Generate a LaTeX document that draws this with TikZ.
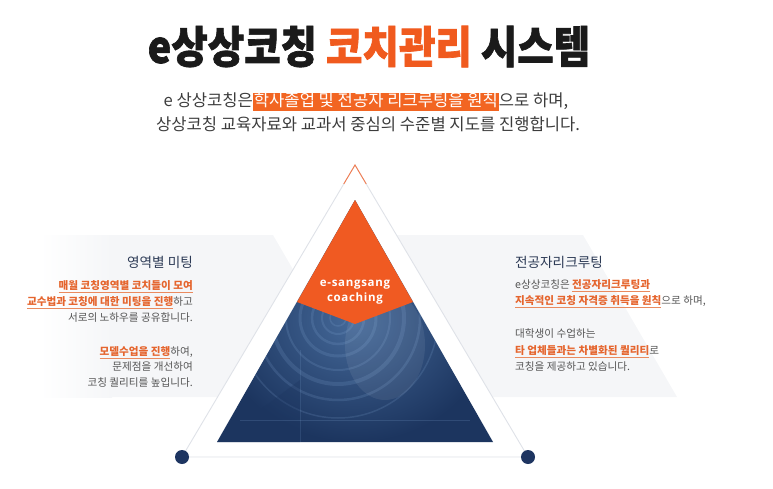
\documentclass[tikz,border=0pt]{standalone}
\usepackage{fontspec}
\setmainfont{Noto Sans CJK KR}
\newfontfamily\titlefont{Noto Sans CJK KR}[BoldFeatures={FakeBold=1.6}]
\newfontfamily\ctrfont{Open Sans}[LetterSpace=6]
\usetikzlibrary{calc}
\definecolor{titleorange}{HTML}{F05A1E}
\definecolor{titleblack}{HTML}{1A1A1A}
\definecolor{txtorange}{HTML}{E5652E}
\definecolor{uline}{HTML}{EA8A5E}
\definecolor{hlorange}{HTML}{F26522}
\definecolor{navyhead}{HTML}{2C3A55}
\definecolor{graytxt}{HTML}{555555}
\definecolor{subgray}{HTML}{3C3C3C}
\definecolor{panel}{HTML}{F5F6F8}
\definecolor{dotnavy}{HTML}{1E3561}
\definecolor{triline}{HTML}{DFE2E8}
\definecolor{regorange}{HTML}{F05A22}
\definecolor{photolight}{HTML}{456999}
\definecolor{photodark}{HTML}{1C355F}
\definecolor{ringblue}{HTML}{8DB3E0}
\newcommand\orul[1]{{\color{txtorange}\bfseries\setbox0\hbox{#1}\rlap{\color{uline}\rule[-3.4pt]{\wd0}{0.8pt}}\box0}}
\newcommand\hlbox[1]{{\setlength\fboxsep{0pt}\colorbox{hlorange}{\rule[-3.6pt]{0pt}{17.5pt}\kern1pt\color{white}#1\kern1pt}}}
\begin{document}
\begin{tikzpicture}[x=1pt,y=-1pt,
  bodytxt/.style={inner sep=0pt,font=\fontsize{10.6}{12}\selectfont,text=graytxt},
  headtxt/.style={inner sep=0pt,font=\fontsize{13.6}{15}\selectfont,text=navyhead},
  subtxt/.style={inner sep=0pt,font=\fontsize{16.6}{18}\selectfont,text=subgray},
  ctrtxt/.style={inner sep=0pt,font=\ctrfont\bfseries\fontsize{11.5}{13}\selectfont,text=white},
  dot/.style={circle,fill=dotnavy,minimum size=14pt,inner sep=0pt},
  outline/.style={draw=triline,line width=0.9pt},
]
\useasboundingbox (0,0) rectangle (773,489);
% background panels
\shade[left color=white,right color=panel] (40,235) rectangle (112,397);
\fill[panel] (111,235) -- (273,235) -- (367,397) -- (111,397) -- cycle;
\fill[panel] (390,235) -- (583,235) -- (677,397) -- (390,397) -- cycle;
% outer triangle
\coordinate (apex) at (355,165);
\coordinate (pl) at (182,457);
\coordinate (pr) at (528,457);
\draw[outline,fill=white] (apex) -- (pl) -- (pr) -- cycle;
\draw[regorange!80,line width=0.9pt] ($(apex)!0.065!(pl)$) -- (apex) -- ($(apex)!0.065!(pr)$);
% inner triangle (photo)
\coordinate (ia) at (355,200);
\coordinate (il) at (217,442);
\coordinate (ir) at (493,442);
\shade[inner color=photolight,outer color=photodark] (ia) -- (il) -- (ir) -- cycle;
\begin{scope}
  \clip (ia) -- (il) -- (ir) -- cycle;
  \foreach \r/\w in {8/1.5,16/2,26/2.5,38/3,52/2,66/4,82/2.5,100/1.5}{
    \draw[ringblue,opacity=0.16,line width=\w pt] (338,318) circle[radius=\r pt];
  }
  \fill[white,opacity=0.07] (385,345) ellipse[x radius=40pt,y radius=55pt];
  \fill[photodark,opacity=0.35] (217,442) -- (300,380) -- (300,442) -- cycle;
  \draw[ringblue,opacity=0.18,line width=0.8pt] (240,420) -- (470,420);
  \draw[ringblue,opacity=0.15,line width=0.8pt] (300,350) -- (300,442);
\end{scope}
% orange top region
\coordinate (ol) at (297,302);
\coordinate (ob) at (355,324);
\coordinate (or) at (413,302);
\fill[regorange] (ia) -- (ol) -- (ob) -- (or) -- cycle;
\node[ctrtxt,anchor=base] (c1) at (355,286) {e-sangsang};
\node[ctrtxt,anchor=base] (c2) at (355,301) {coaching};
% dots
\node[dot] (dl) at (pl) {};
\node[dot] (dr) at (pr) {};
% title
\node[inner sep=0pt,anchor=base,text=titleblack,font=\titlefont\bfseries\fontsize{44}{50}\selectfont] (title) at (369,63)
  {\scalebox{0.90}[1]{e상상코칭 \textcolor{titleorange}{코치관리} 시스템}};
% subtitle
\node[subtxt,anchor=base] (sub1) at (366,107) {e 상상코칭은\hlbox{학사졸업 및 전공자 리크루팅을 원칙}으로 하며,};
\node[subtxt,anchor=base] (sub2) at (368,130.5) {상상코칭 교육자료와 교과서 중심의 수준별 지도를 진행합니다.};
% left block
\node[headtxt,anchor=base east] (lh) at (193,267) {영역별 미팅};
\node[bodytxt,anchor=base east] (l1) at (193,289) {\orul{매월 코칭영역별 코치들이 모여}};
\node[bodytxt,anchor=base east] (l2) at (193,305) {\orul{교수법과 코칭에 대한 미팅을 진행}하고};
\node[bodytxt,anchor=base east] (l3) at (193,321) {서로의 노하우를 공유합니다.};
\node[bodytxt,anchor=base east] (l4) at (193,355) {\orul{모델수업을 진행}하여,};
\node[bodytxt,anchor=base east] (l5) at (193,370) {문제점을 개선하여};
\node[bodytxt,anchor=base east] (l6) at (193,386) {코칭 퀄리티를 높입니다.};
% right block
\node[headtxt,anchor=base west] (rh) at (515,267) {전공자리크루팅};
\node[bodytxt,anchor=base west] (r1) at (515,288) {e상상코칭은 \orul{전공자리크루팅과}};
\node[bodytxt,anchor=base west] (r2) at (515,304) {\orul{지속적인 코칭 자격증 취득을 원칙}으로 하며,};
\node[bodytxt,anchor=base west] (r3) at (515,337) {대학생이 수업하는};
\node[bodytxt,anchor=base west] (r4) at (515,354) {\orul{타 업체들과는 차별화된 퀄리티}로};
\node[bodytxt,anchor=base west] (r5) at (515,370) {코칭을 제공하고 있습니다.};
\end{tikzpicture}
\end{document}
